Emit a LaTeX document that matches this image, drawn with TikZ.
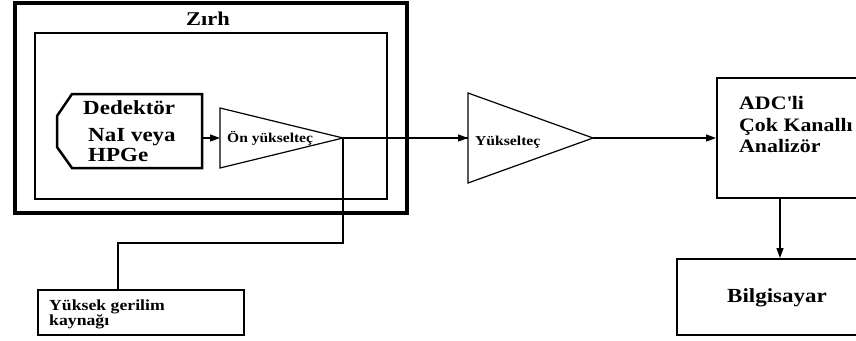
\documentclass[tikz,border=0pt]{standalone}
\usepackage{fontspec}
\setmainfont[FakeStretch=1.15]{Liberation Serif}
\usetikzlibrary{arrows.meta}
\tikzset{
  conn/.style={line width=1.3pt},
  arr/.style={conn,-{Triangle[length=10pt,width=7pt]}},
  blockbox/.style={draw,line width=1.6pt,inner sep=0pt},
  amp/.style={draw,line width=1.2pt,line join=miter},
  lbl/.style={inner sep=0pt,font=\bfseries\fontsize{#1}{#1}\selectfont},
}
\begin{document}
\begin{tikzpicture}[x=1pt,y=-1pt]
\useasboundingbox (0,0) rectangle (856,340);

% shield and enclosure
\draw[line width=4pt] (15,3) rectangle (407,213);
\node[lbl=19.5] (zirh) at (208,19) {Zırh};
\draw[line width=2.5pt] (35,33) rectangle (387,199);

% detector
\draw[line width=2.5pt,line join=miter] (72,94) -- (202,94) -- (202,168) -- (72,168) -- (57,147) -- (57,116) -- cycle;
\node[lbl=20,anchor=base west] (dedektor) at (83,114) {Dedektör};
\node[lbl=20,anchor=base west] (nai) at (88,141) {NaI veya};
\node[lbl=20,anchor=base west] (hpge) at (88,161) {HPGe};
\coordinate (detout) at (202,138);

% pre-amplifier
\coordinate (pa1) at (220,108);
\coordinate (pa2) at (220,168);
\coordinate (paA) at (343,138);
\coordinate (pain) at (220,138);
\draw[amp] (pa1) -- (paA) -- (pa2) -- cycle;
\node[lbl=13.5,anchor=base west] (onyuk) at (227,142) {Ön yükselteç};

% amplifier
\coordinate (am1) at (468,93);
\coordinate (am2) at (468,183);
\coordinate (amA) at (593,138);
\coordinate (amin) at (468,138);
\draw[amp] (am1) -- (amA) -- (am2) -- cycle;
\node[lbl=13.6,anchor=base west] (yuk) at (475,145) {Yükselteç};

% high voltage supply
\node[blockbox,line width=1.8pt,anchor=north west,minimum width=206pt,minimum height=45pt] (hv) at (37,289) {};
\node[lbl=15.4,anchor=north west,align=left,font=\bfseries\fontsize{15.4}{14.5}\selectfont] (hvtext) at (49,300) {Yüksek gerilim\\kaynağı};
\coordinate (bend) at (118,243);

% multichannel analyser and computer
\node[blockbox,anchor=north west,minimum width=154pt,minimum height=120pt] (adc) at (716,77) {};
\node[lbl=19,anchor=north west,align=left,font=\bfseries\fontsize{19}{21.5}\selectfont] (adctext) at (739,96.5) {ADC\textquotesingle li\\Çok Kanallı\\Analizör};
\node[blockbox,anchor=north west,minimum width=194pt,minimum height=76pt] (pc) at (676,258) {};
\node[lbl=20] (pctext) at (777,298) {Bilgisayar};
\coordinate (pcx) at (780,0);

% signal chain
\draw[arr] (detout) -- (pain);
\draw[conn] (paA) -- (amin);
\draw[arr] ([xshift=-20pt]amin) -- (amin);
\draw[arr] (amA) -- (amA -| adc.west);
\draw[arr] (adc.south -| pcx) -- (pc.north -| pcx);
\draw[conn] (paA) |- (bend) -- (hv.north -| bend);
\end{tikzpicture}
\end{document}
